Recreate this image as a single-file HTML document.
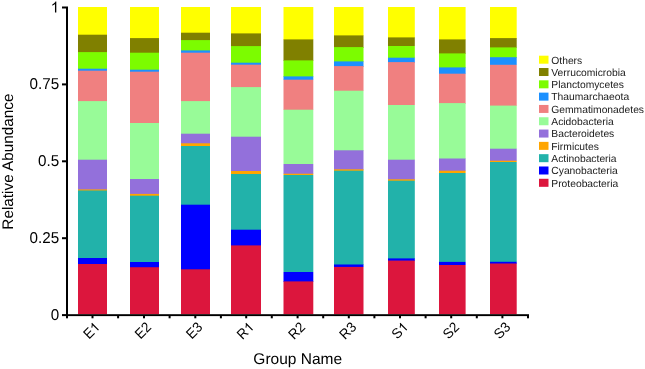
<!DOCTYPE html>
<html><head><meta charset="utf-8"><style>
html,body{margin:0;padding:0;background:#fff;}
svg{display:block;will-change:transform;text-rendering:geometricPrecision;font-family:"Liberation Sans",sans-serif;}
</style></head><body>
<svg width="645" height="369" viewBox="0 0 645 369">
<defs><filter id="b" x="0" y="0" width="1" height="1"><feGaussianBlur stdDeviation="0.3"/></filter></defs>
<rect width="645" height="369" fill="#fff"/>
<g filter="url(#b)">
<rect x="78" y="7.00" width="29.00" height="28.00" fill="#FFFF00"/>
<rect x="78" y="34.70" width="29.00" height="18.30" fill="#808000"/>
<rect x="78" y="52.10" width="29.00" height="16.90" fill="#7CFC00"/>
<rect x="78" y="68.70" width="29.00" height="2.30" fill="#1E90FF"/>
<rect x="78" y="70.70" width="29.00" height="31.30" fill="#F08080"/>
<rect x="78" y="101.10" width="29.00" height="58.90" fill="#98FB98"/>
<rect x="78" y="159.70" width="29.00" height="30.30" fill="#9370DB"/>
<rect x="78" y="189.40" width="29.00" height="1.60" fill="#FFA500"/>
<rect x="78" y="190.50" width="29.00" height="67.50" fill="#20B2AA"/>
<rect x="78" y="258.00" width="29.00" height="6.00" fill="#0000FF"/>
<rect x="78" y="264.00" width="29.00" height="50.30" fill="#DC143C"/>
<rect x="130" y="7.00" width="29.00" height="32.00" fill="#FFFF00"/>
<rect x="130" y="38.10" width="29.00" height="14.90" fill="#808000"/>
<rect x="130" y="52.70" width="29.00" height="17.30" fill="#7CFC00"/>
<rect x="130" y="69.70" width="29.00" height="2.30" fill="#1E90FF"/>
<rect x="130" y="71.70" width="29.00" height="51.30" fill="#F08080"/>
<rect x="130" y="123.00" width="29.00" height="56.00" fill="#98FB98"/>
<rect x="130" y="179.00" width="29.00" height="15.00" fill="#9370DB"/>
<rect x="130" y="193.90" width="29.00" height="2.10" fill="#FFA500"/>
<rect x="130" y="195.70" width="29.00" height="66.30" fill="#20B2AA"/>
<rect x="130" y="262.00" width="29.00" height="6.00" fill="#0000FF"/>
<rect x="130" y="267.20" width="29.00" height="47.10" fill="#DC143C"/>
<rect x="181" y="7.00" width="29.00" height="26.00" fill="#FFFF00"/>
<rect x="181" y="32.70" width="29.00" height="8.30" fill="#808000"/>
<rect x="181" y="40.10" width="29.00" height="10.90" fill="#7CFC00"/>
<rect x="181" y="50.40" width="29.00" height="2.60" fill="#1E90FF"/>
<rect x="181" y="52.70" width="29.00" height="49.30" fill="#F08080"/>
<rect x="181" y="101.10" width="29.00" height="32.90" fill="#98FB98"/>
<rect x="181" y="133.70" width="29.00" height="10.30" fill="#9370DB"/>
<rect x="181" y="143.30" width="29.00" height="2.70" fill="#FFA500"/>
<rect x="181" y="146.00" width="29.00" height="59.00" fill="#20B2AA"/>
<rect x="181" y="204.70" width="29.00" height="65.30" fill="#0000FF"/>
<rect x="181" y="269.30" width="29.00" height="45.00" fill="#DC143C"/>
<rect x="231" y="7.00" width="30.00" height="27.00" fill="#FFFF00"/>
<rect x="231" y="33.40" width="30.00" height="13.60" fill="#808000"/>
<rect x="231" y="46.10" width="30.00" height="16.90" fill="#7CFC00"/>
<rect x="231" y="62.70" width="30.00" height="2.30" fill="#1E90FF"/>
<rect x="231" y="64.70" width="30.00" height="23.30" fill="#F08080"/>
<rect x="231" y="87.10" width="30.00" height="49.90" fill="#98FB98"/>
<rect x="231" y="136.70" width="30.00" height="34.30" fill="#9370DB"/>
<rect x="231" y="171.00" width="30.00" height="3.00" fill="#FFA500"/>
<rect x="231" y="174.00" width="30.00" height="56.00" fill="#20B2AA"/>
<rect x="231" y="229.70" width="30.00" height="16.30" fill="#0000FF"/>
<rect x="231" y="245.40" width="30.00" height="68.90" fill="#DC143C"/>
<rect x="283.5" y="7.00" width="29.80" height="33.00" fill="#FFFF00"/>
<rect x="283.5" y="39.40" width="29.80" height="21.60" fill="#808000"/>
<rect x="283.5" y="60.40" width="29.80" height="16.60" fill="#7CFC00"/>
<rect x="283.5" y="76.40" width="29.80" height="3.60" fill="#1E90FF"/>
<rect x="283.5" y="79.70" width="29.80" height="30.30" fill="#F08080"/>
<rect x="283.5" y="109.70" width="29.80" height="54.30" fill="#98FB98"/>
<rect x="283.5" y="164.00" width="29.80" height="10.00" fill="#9370DB"/>
<rect x="283.5" y="173.70" width="29.80" height="1.30" fill="#FFA500"/>
<rect x="283.5" y="175.00" width="29.80" height="97.00" fill="#20B2AA"/>
<rect x="283.5" y="272.00" width="29.80" height="10.00" fill="#0000FF"/>
<rect x="283.5" y="281.40" width="29.80" height="32.90" fill="#DC143C"/>
<rect x="334" y="7.00" width="29.50" height="29.00" fill="#FFFF00"/>
<rect x="334" y="35.40" width="29.50" height="12.60" fill="#808000"/>
<rect x="334" y="47.10" width="29.50" height="14.90" fill="#7CFC00"/>
<rect x="334" y="61.40" width="29.50" height="5.60" fill="#1E90FF"/>
<rect x="334" y="66.10" width="29.50" height="24.90" fill="#F08080"/>
<rect x="334" y="90.70" width="29.50" height="60.30" fill="#98FB98"/>
<rect x="334" y="150.30" width="29.50" height="19.70" fill="#9370DB"/>
<rect x="334" y="169.30" width="29.50" height="1.70" fill="#FFA500"/>
<rect x="334" y="170.70" width="29.50" height="94.30" fill="#20B2AA"/>
<rect x="334" y="264.50" width="29.50" height="2.50" fill="#0000FF"/>
<rect x="334" y="266.90" width="29.50" height="47.40" fill="#DC143C"/>
<rect x="388" y="7.00" width="26.80" height="31.00" fill="#FFFF00"/>
<rect x="388" y="37.40" width="26.80" height="8.60" fill="#808000"/>
<rect x="388" y="46.00" width="26.80" height="12.00" fill="#7CFC00"/>
<rect x="388" y="57.70" width="26.80" height="5.30" fill="#1E90FF"/>
<rect x="388" y="62.10" width="26.80" height="42.90" fill="#F08080"/>
<rect x="388" y="105.00" width="26.80" height="55.00" fill="#98FB98"/>
<rect x="388" y="159.70" width="26.80" height="20.30" fill="#9370DB"/>
<rect x="388" y="179.30" width="26.80" height="1.70" fill="#FFA500"/>
<rect x="388" y="180.70" width="26.80" height="78.30" fill="#20B2AA"/>
<rect x="388" y="258.40" width="26.80" height="2.60" fill="#0000FF"/>
<rect x="388" y="260.60" width="26.80" height="53.70" fill="#DC143C"/>
<rect x="439" y="7.00" width="26.60" height="33.00" fill="#FFFF00"/>
<rect x="439" y="39.40" width="26.60" height="14.60" fill="#808000"/>
<rect x="439" y="53.40" width="26.60" height="14.60" fill="#7CFC00"/>
<rect x="439" y="67.40" width="26.60" height="6.60" fill="#1E90FF"/>
<rect x="439" y="73.70" width="26.60" height="30.30" fill="#F08080"/>
<rect x="439" y="103.10" width="26.60" height="55.90" fill="#98FB98"/>
<rect x="439" y="158.50" width="26.60" height="12.50" fill="#9370DB"/>
<rect x="439" y="170.70" width="26.60" height="2.30" fill="#FFA500"/>
<rect x="439" y="173.00" width="26.60" height="89.00" fill="#20B2AA"/>
<rect x="439" y="261.90" width="26.60" height="3.10" fill="#0000FF"/>
<rect x="439" y="265.00" width="26.60" height="49.30" fill="#DC143C"/>
<rect x="490" y="7.00" width="26.70" height="32.00" fill="#FFFF00"/>
<rect x="490" y="38.10" width="26.70" height="9.90" fill="#808000"/>
<rect x="490" y="47.40" width="26.70" height="10.60" fill="#7CFC00"/>
<rect x="490" y="57.20" width="26.70" height="7.80" fill="#1E90FF"/>
<rect x="490" y="64.80" width="26.70" height="41.20" fill="#F08080"/>
<rect x="490" y="105.60" width="26.70" height="43.40" fill="#98FB98"/>
<rect x="490" y="148.70" width="26.70" height="12.30" fill="#9370DB"/>
<rect x="490" y="160.70" width="26.70" height="1.30" fill="#FFA500"/>
<rect x="490" y="162.00" width="26.70" height="100.00" fill="#20B2AA"/>
<rect x="490" y="261.80" width="26.70" height="2.20" fill="#0000FF"/>
<rect x="490" y="263.50" width="26.70" height="50.80" fill="#DC143C"/>
<rect x="66" y="6.5" width="2" height="309.6" fill="#000"/>
<rect x="66" y="314.2" width="463" height="1.9" fill="#000"/>
<rect x="62" y="6.5" width="4" height="2" fill="#000"/>
<rect x="62" y="83.4" width="4" height="2" fill="#000"/>
<rect x="62" y="160.3" width="4" height="2" fill="#000"/>
<rect x="62" y="237.2" width="4" height="2" fill="#000"/>
<rect x="62" y="314.1" width="4" height="2" fill="#000"/>
<rect x="91.5" y="316" width="2" height="2.3" fill="#000"/>
<rect x="117.1" y="316" width="2" height="2.3" fill="#000"/>
<rect x="143" y="316" width="2" height="2.3" fill="#000"/>
<rect x="168.6" y="316" width="2" height="2.3" fill="#000"/>
<rect x="194.3" y="316" width="2" height="2.3" fill="#000"/>
<rect x="219.9" y="316" width="2" height="2.3" fill="#000"/>
<rect x="245.2" y="316" width="2" height="2.3" fill="#000"/>
<rect x="270.8" y="316" width="2" height="2.3" fill="#000"/>
<rect x="296.6" y="316" width="2" height="2.3" fill="#000"/>
<rect x="322.20000000000005" y="316" width="2" height="2.3" fill="#000"/>
<rect x="347.8" y="316" width="2" height="2.3" fill="#000"/>
<rect x="373.40000000000003" y="316" width="2" height="2.3" fill="#000"/>
<rect x="399" y="316" width="2" height="2.3" fill="#000"/>
<rect x="424.6" y="316" width="2" height="2.3" fill="#000"/>
<rect x="450.2" y="316" width="2" height="2.3" fill="#000"/>
<rect x="475.8" y="316" width="2" height="2.3" fill="#000"/>
<rect x="501.4" y="316" width="2" height="2.3" fill="#000"/>
<rect x="527.0" y="316" width="2" height="2.3" fill="#000"/>
<rect x="66" y="316" width="2" height="2.3" fill="#000"/>
<g transform="translate(0,12.40)"><path transform="translate(50.646,0) scale(0.007422,-0.007422)" d="M763 0H583V1147C518 1085 433 1023 333 961C283 931 249 914 222 901V1075C329 1126 423 1187 504 1258C585 1329 630 1398 646 1466H763Z"/></g>
<g transform="translate(0,89.30)"><text x="29.516" y="0" font-size="15.2" transform="scale(1,1.035)">0.75</text></g>
<g transform="translate(0,166.20)"><text x="37.970" y="0" font-size="15.2" transform="scale(1,1.035)">0.5</text></g>
<g transform="translate(0,243.10)"><text x="29.516" y="0" font-size="15.2" transform="scale(1,1.035)">0.25</text></g>
<g transform="translate(0,320.00)"><text x="50.646" y="0" font-size="15.2" transform="scale(1,1.035)">0</text></g>
<g transform="translate(93.7,321) rotate(-45) translate(0,9.846)"><text x="-16.635" y="0" font-size="13.6" transform="scale(1,1.035)">E</text><path transform="translate(-7.564,0) scale(0.006641,-0.006641)" d="M763 0H583V1147C518 1085 433 1023 333 961C283 931 249 914 222 901V1075C329 1126 423 1187 504 1258C585 1329 630 1398 646 1466H763Z"/></g>
<g transform="translate(145.2,321) rotate(-45) translate(0,9.846)"><text x="-16.635" y="0" font-size="13.6" transform="scale(1,1.035)">E2</text></g>
<g transform="translate(196.5,321) rotate(-45) translate(0,9.846)"><text x="-16.635" y="0" font-size="13.6" transform="scale(1,1.035)">E3</text></g>
<g transform="translate(247.79999999999998,321) rotate(-45) translate(0,9.846)"><text x="-17.385" y="0" font-size="13.6" transform="scale(1,1.035)">R</text><path transform="translate(-7.564,0) scale(0.006641,-0.006641)" d="M763 0H583V1147C518 1085 433 1023 333 961C283 931 249 914 222 901V1075C329 1126 423 1187 504 1258C585 1329 630 1398 646 1466H763Z"/></g>
<g transform="translate(299.20000000000005,321) rotate(-45) translate(0,9.846)"><text x="-17.385" y="0" font-size="13.6" transform="scale(1,1.035)">R2</text></g>
<g transform="translate(350.40000000000003,321) rotate(-45) translate(0,9.846)"><text x="-17.385" y="0" font-size="13.6" transform="scale(1,1.035)">R3</text></g>
<g transform="translate(402.0,321) rotate(-45) translate(0,9.846)"><text x="-16.635" y="0" font-size="13.6" transform="scale(1,1.035)">S</text><path transform="translate(-7.564,0) scale(0.006641,-0.006641)" d="M763 0H583V1147C518 1085 433 1023 333 961C283 931 249 914 222 901V1075C329 1126 423 1187 504 1258C585 1329 630 1398 646 1466H763Z"/></g>
<g transform="translate(453.2,321) rotate(-45) translate(0,9.846)"><text x="-16.635" y="0" font-size="13.6" transform="scale(1,1.035)">S2</text></g>
<g transform="translate(504.4,321) rotate(-45) translate(0,9.846)"><text x="-16.635" y="0" font-size="13.6" transform="scale(1,1.035)">S3</text></g>
<text x="297.7" y="363.6" text-anchor="middle" font-size="15.5">Group Name</text>
<text transform="translate(12.9,161.6) rotate(-90)" text-anchor="middle" font-size="15.3">Relative Abundance</text>
<rect x="539" y="55.70" width="9.5" height="8" fill="#FFFF00"/>
<text x="551.3" y="63.50" font-size="10.3" fill="#1a1a1a">Others</text>
<rect x="539" y="68.01" width="9.5" height="8" fill="#808000"/>
<text x="551.3" y="75.81" font-size="10.3" fill="#1a1a1a">Verrucomicrobia</text>
<rect x="539" y="80.32" width="9.5" height="8" fill="#7CFC00"/>
<text x="551.3" y="88.12" font-size="10.3" fill="#1a1a1a">Planctomycetes</text>
<rect x="539" y="92.63" width="9.5" height="8" fill="#1E90FF"/>
<text x="551.3" y="100.43" font-size="10.3" fill="#1a1a1a">Thaumarchaeota</text>
<rect x="539" y="104.94" width="9.5" height="8" fill="#F08080"/>
<text x="551.3" y="112.74" font-size="10.3" fill="#1a1a1a">Gemmatimonadetes</text>
<rect x="539" y="117.25" width="9.5" height="8" fill="#98FB98"/>
<text x="551.3" y="125.05" font-size="10.3" fill="#1a1a1a">Acidobacteria</text>
<rect x="539" y="129.56" width="9.5" height="8" fill="#9370DB"/>
<text x="551.3" y="137.36" font-size="10.3" fill="#1a1a1a">Bacteroidetes</text>
<rect x="539" y="141.87" width="9.5" height="8" fill="#FFA500"/>
<text x="551.3" y="149.67" font-size="10.3" fill="#1a1a1a">Firmicutes</text>
<rect x="539" y="154.18" width="9.5" height="8" fill="#20B2AA"/>
<text x="551.3" y="161.98" font-size="10.3" fill="#1a1a1a">Actinobacteria</text>
<rect x="539" y="166.49" width="9.5" height="8" fill="#0000FF"/>
<text x="551.3" y="174.29" font-size="10.3" fill="#1a1a1a">Cyanobacteria</text>
<rect x="539" y="178.80" width="9.5" height="8" fill="#DC143C"/>
<text x="551.3" y="186.60" font-size="10.3" fill="#1a1a1a">Proteobacteria</text>
</g>
</svg>
</body></html>
